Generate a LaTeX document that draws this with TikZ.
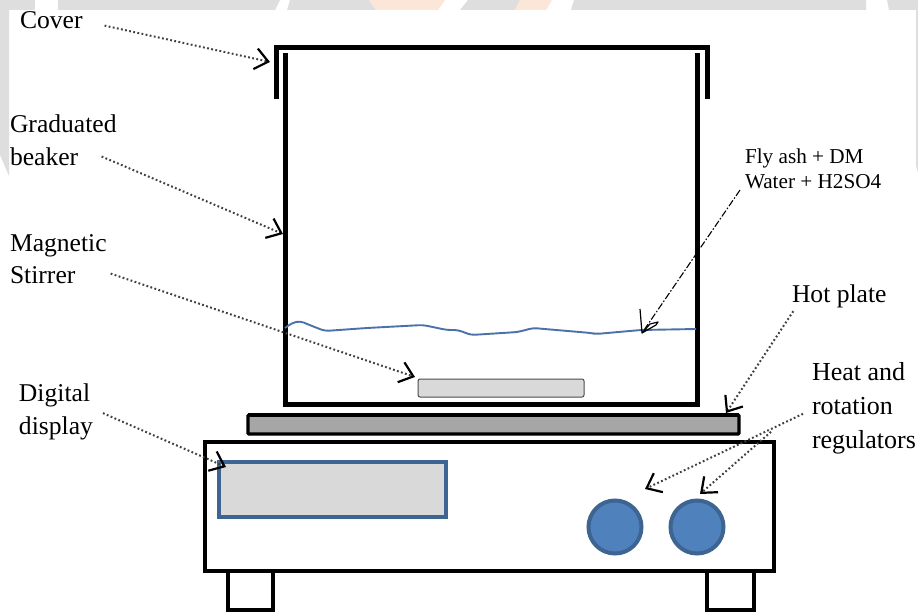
\documentclass[tikz,border=0pt]{standalone}
\usepackage{fontspec}
\setmainfont{Liberation Serif}
\usetikzlibrary{arrows.meta,calc}
\definecolor{wmgrey}{HTML}{DEDEDE}
\definecolor{wmorange}{HTML}{FCE6D8}
\definecolor{panel}{HTML}{D9D9D9}
\definecolor{plategrey}{HTML}{A6A6A6}
\definecolor{knobfill}{HTML}{4F81BD}
\definecolor{knobline}{HTML}{3E6491}
\definecolor{waterline}{HTML}{4A72A8}
\tikzset{
  lbl/.style={anchor=north west,inner sep=0pt,outer sep=0pt,align=left,text=black,font=\fontsize{25.6}{33}\selectfont},
  lblnarrow/.style={lbl,font=\fontsize{25.6}{32}\selectfont},
  lblwide/.style={lbl,font=\fontsize{26}{34}\selectfont},
  smalllbl/.style={anchor=north west,inner sep=0pt,outer sep=0pt,align=left,text=black,font=\fontsize{21.2}{25}\selectfont},
  box/.style={rectangle,inner sep=0pt,outer sep=0pt,draw=black,anchor=north west},
  wall/.style={line width=5pt,draw=black,line join=miter},
  pointer/.style={line width=2pt,dash pattern=on 1.8pt off 2.4pt,draw=black!75,-{Straight Barb[length=13pt,width=21pt,line width=2.2pt,black]}},
  knob/.style={circle,inner sep=0pt,outer sep=0pt,minimum size=53pt,fill=knobfill,draw=knobline,line width=4pt},
}
\begin{document}
\begin{tikzpicture}[x=1pt,y=-1pt]
\useasboundingbox (0,0) rectangle (918,612);
\fill[white] (0,0) rectangle (918,612);
% watermark remains
\fill[wmgrey] (0,0) rectangle (35,10);
\fill[wmgrey] (58,0) -- (280,0) -- (275,10) -- (58,10) -- cycle;
\fill[wmgrey] (290,0) -- (369,0) -- (376,10) -- (287,10) -- cycle;
\fill[wmorange] (369,0) -- (445,0) -- (438,10) -- (376,10) -- cycle;
\fill[wmgrey] (468,0) -- (520,0) -- (515,10) -- (460,10) -- cycle;
\fill[wmorange] (520,0) -- (552,0) -- (546,10) -- (515,10) -- cycle;
\fill[wmgrey] (574,0) -- (866,0) -- (866,10) -- (571,10) -- cycle;
\fill[wmgrey] (887,0) -- (918,0) -- (918,10) -- (889,10) -- cycle;
\fill[wmgrey] (0,0) -- (9,0) -- (9,176) -- (0,155) -- cycle;
\fill[wmgrey] (916,0) -- (918,0) -- (918,172) -- (916,166) -- cycle;

% base and legs
\node[box,line width=3.4pt,minimum width=45pt,minimum height=40pt] (legl) at (228,570) {};
\node[box,line width=3.4pt,minimum width=47pt,minimum height=40pt] (legr) at (707,570) {};
\node[box,line width=3.4pt,fill=white,minimum width=569pt,minimum height=129pt] (base) at (205,442) {};
% hot plate
\node[box,line width=3.4pt,fill=plategrey,minimum width=491pt,minimum height=19pt,rounded corners=1pt] (plate) at (248,415) {};
\draw[line width=4.4pt,black] (plate.north west) -- (plate.north east);
% display
\node[box,draw=knobline,line width=4.4pt,fill=panel,minimum width=227pt,minimum height=55pt] (display) at (219,462) {};
% knobs
\node[knob] (knobl) at (615,527) {};
\node[knob] (knobr) at (697,527) {};
% stirrer
\node[box,draw=black!70,line width=1pt,fill=panel,rounded corners=2pt,minimum width=166pt,minimum height=18pt] (stirrer) at (418,379) {};
% beaker and cover
\coordinate (beakTL) at (285,53);
\coordinate (beakBL) at (285,404);
\coordinate (beakBR) at (697,404);
\coordinate (beakTR) at (697,53);
\coordinate (covA) at (276,99);
\coordinate (covB) at (276,48);
\coordinate (covC) at (707,48);
\coordinate (covD) at (707,99);
\draw[wall] (beakTL) -- (beakBL) -- (beakBR) -- (beakTR);
\draw[wall] (covA) -- (covB) -- (covC) -- (covD);
% liquid surface
\draw[waterline,line width=1.9pt,line join=round,rounded corners=4pt]
  (285,328) -- (292,323) -- (300,321) -- (312,326) -- (325,331) -- (367,328) -- (423,325) -- (447,330)
  -- (458,330) -- (471,335) -- (518,332) -- (533,328) -- (591,333) -- (596,334) -- (641,330) -- (696,329);

% labels
\node[lbl] (lcover) at (20,12) {Cover};
\node[lbl] (lbeaker) at (10,115) {Graduated\\beaker};
\node[lblnarrow] (lstirrer) at (10,235) {Magnetic\\Stirrer};
\node[lbl] (ldisplay) at (19,384) {Digital\\display};
\node[lbl] (lplate) at (792,285) {Hot plate};
\node[lblwide] (lheat) at (812,362) {Heat and\\rotation\\regulators};
\node[smalllbl] (lfly) at (745,149) {Fly ash + DM\\Water + H2SO4};

% pointers
\coordinate (pCover) at (270,62);
\coordinate (pBeaker) at (283,234);
\coordinate (pStirrer) at (415,377);
\coordinate (pDisplay) at (226,467);
\coordinate (pPlate) at (726,413);
\coordinate (pKnobL) at (645,489);
\coordinate (pKnobR) at (700,494);
\coordinate (pFly) at (642,333);
\draw[pointer] ($(lcover.east)+(22,5)$) -- (pCover);
\draw[pointer] ($(lbeaker.east)+(-15,16)$) -- (pBeaker);
\draw[pointer] ($(lstirrer.east)+(4,14)$) -- (pStirrer);
\draw[pointer] ($(ldisplay.east)+(10,1)$) -- (pDisplay);
\draw[pointer] ($(lplate.south)+(-46,3)$) -- (pPlate);
\draw[pointer] ($(lheat.west)+(-9,6)$) -- (pKnobL);
\draw[pointer] ($(lheat.west)+(-41,24)$) -- (pKnobR);
\draw[line width=1.1pt,dash pattern=on 7pt off 2pt on 1.5pt off 2pt,draw=black] ($(lfly.south west)+(-5,1)$) -- (pFly);
\draw[line width=1.2pt,black,line join=round] (640,309) -- (pFly) -- (650,324) -- (658,322) -- (656,325) -- (pFly);
\end{tikzpicture}
\end{document}
